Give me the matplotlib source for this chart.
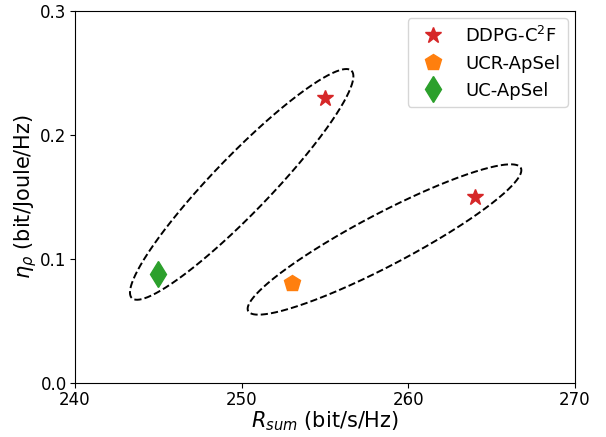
import numpy as np
import matplotlib.pyplot as plt

# data
ddpg_rate = [255, 264]
ddpg_eff = [0.23, 0.15]
ucr_rate = [253]
ucr_eff = [0.08]
uc_rate = [245]
uc_eff = [0.088]

# dashed groupings: centre, major semi-axis vector, minor semi-axis vector (data units)
groups = [
    ((250.0, 0.16), (6.59, 0.0918), (1.23, -0.016)),
    ((258.57, 0.1155), (8.18, 0.0578), (0.73, -0.0186)),
]

fig = plt.figure(figsize=(6.06, 4.37), dpi=100)
ax = fig.add_axes([0.1238, 0.1247, 0.825, 0.850])

ax.plot(ddpg_rate, ddpg_eff, '*', color='tab:red', markersize=12, linestyle='none', label='DDPG-C$^2$F')
ax.plot(ucr_rate, ucr_eff, 'p', color='tab:orange', markersize=12, linestyle='none', label='UCR-ApSel')
ax.plot(uc_rate, uc_eff, 'd', color='tab:green', markersize=13, linestyle='none', label='UC-ApSel')

t = np.linspace(0, 2 * np.pi, 400)
for c, u, v in groups:
    xs = c[0] + u[0] * np.cos(t) + v[0] * np.sin(t)
    ys = c[1] + u[1] * np.cos(t) + v[1] * np.sin(t)
    ax.plot(xs, ys, 'k--', linewidth=1.4)

ax.set_xlim(240, 270)
ax.set_ylim(0, 0.3)
ax.set_xticks([240, 250, 260, 270])
ax.set_yticks([0.0, 0.1, 0.2, 0.3])
ax.tick_params(labelsize=12, pad=2.5)
ax.set_xlabel('$R_{sum}$ (bit/s/Hz)', fontsize=15, labelpad=0.5)
ax.set_ylabel(r'$\eta_\rho$ (bit/Joule/Hz)', fontsize=15, labelpad=1)
ax.legend(loc='upper right', fontsize=13, borderaxespad=0.4)

fig.savefig('out.png', dpi=100)
